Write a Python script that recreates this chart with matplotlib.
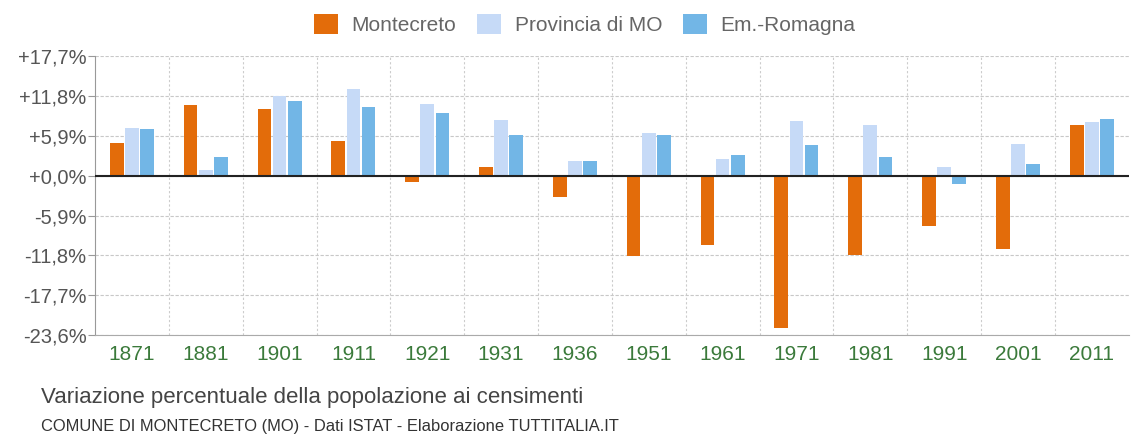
import numpy as np
import matplotlib.pyplot as plt

plt.rcParams['font.family'] = ['Liberation Sans', 'DejaVu Sans']

years = ['1871', '1881', '1901', '1911', '1921', '1931', '1936',
         '1951', '1961', '1971', '1981', '1991', '2001', '2011']
montecreto = [4.9, 10.5, 9.9, 5.2, -0.9, 1.3, -3.1, -11.9, -10.2, -22.6, -11.7, -7.5, -10.9, 7.5]
provincia = [7.1, 0.9, 11.8, 12.8, 10.6, 8.3, 2.1, 6.3, 2.5, 8.1, 7.5, 1.3, 4.7, 8.0]
regione = [6.9, 2.7, 11.1, 10.2, 9.3, 6.0, 2.1, 6.0, 3.1, 4.6, 2.7, -1.2, 1.7, 8.4]
series_names = ['Montecreto', 'Provincia di MO', 'Em.-Romagna']
yticks = [17.7, 11.8, 5.9, 0.0, -5.9, -11.8, -17.7, -23.6]

colors = ['#E36C0A', '#C6DAF7', '#72B6E6']

fig = plt.figure(figsize=(11.31, 4.45), dpi=100)
ax = fig.add_axes([0.084, 0.247, 0.914, 0.627])

x = np.arange(len(years))
w = 0.185
off = 0.205
for i, (vals, c, name) in enumerate(zip([montecreto, provincia, regione], colors, series_names)):
    ax.bar(x + (i - 1) * off, vals, width=w, color=c, label=name, zorder=3)

ax.set_xlim(-0.5, len(years) - 0.5)
ax.set_ylim(-23.6, 17.7)
ax.set_yticks(yticks)
ax.set_yticklabels([('+' if v >= 0 else '') + f'{v:.1f}'.replace('.', ',') + '%' for v in yticks],
                   color='#555555', fontsize=14.5)
ax.set_xticks(x)
ax.set_xticklabels(years, color='#3B7A3B', fontsize=15)
ax.tick_params(axis='x', length=0, pad=7)
ax.tick_params(axis='y', length=5, color='#999999', pad=1)

ax.axhline(0, color='#222222', lw=1.5, zorder=4)
ax.grid(axis='y', color='#c8c8c8', lw=0.8, linestyle=(0, (3, 1.5)), zorder=0)
for b in np.arange(0.5, len(years) - 0.5, 1):
    ax.axvline(b, color='#cccccc', lw=0.8, linestyle=(0, (2, 2)), zorder=0)

for s in ['top', 'right']:
    ax.spines[s].set_visible(False)
ax.spines['left'].set_color('#999999')
ax.spines['bottom'].set_color('#aaaaaa')

fig.legend(loc='center', bbox_to_anchor=(0.517, 0.944), ncol=3, frameon=False,
           fontsize=15, handlelength=1.15, handleheight=1.1, handletextpad=0.65,
           columnspacing=1.0, labelcolor='#666666', borderpad=0)

fig.text(0.036, 0.095, 'Variazione percentuale della popolazione ai censimenti',
         fontsize=16, color='#444444')
fig.text(0.036, 0.032, 'COMUNE DI MONTECRETO (MO) - Dati ISTAT - Elaborazione TUTTITALIA.IT',
         fontsize=11.9, color='#333333')

fig.savefig('out.png', dpi=100)
